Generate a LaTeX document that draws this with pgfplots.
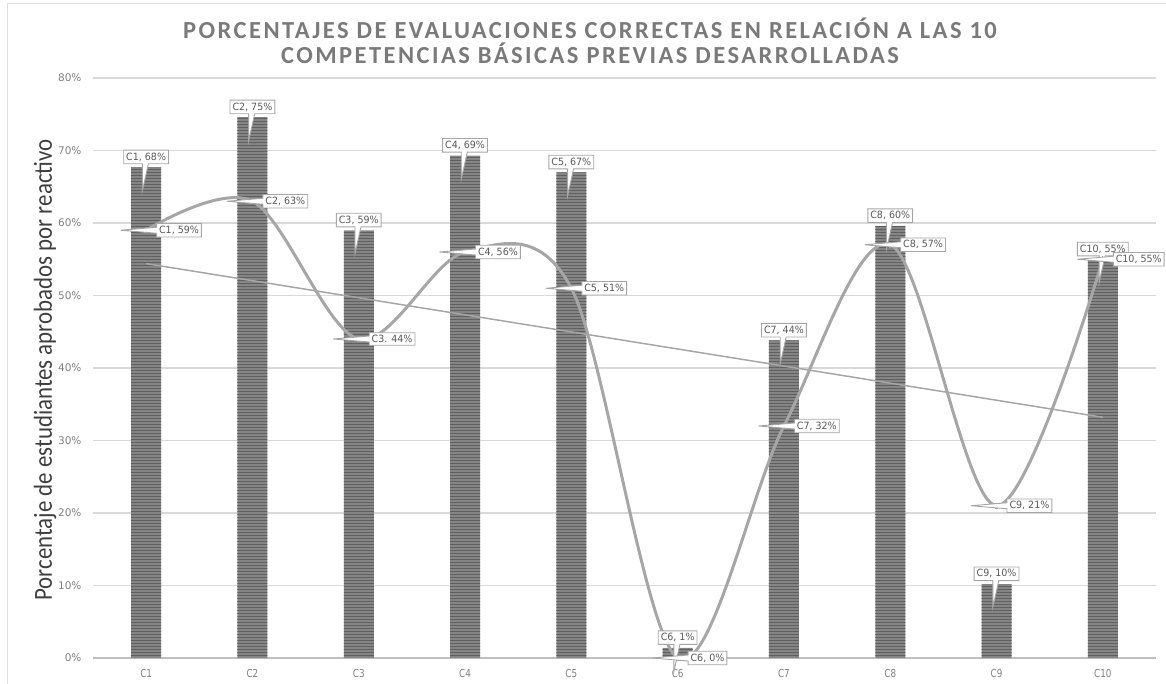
\documentclass[border=0pt]{standalone}
\usepackage{pgfplots}
\pgfplotsset{compat=1.18}
\usetikzlibrary{patterns,shapes.callouts}
\usepackage{fontspec}
\setmainfont{DejaVu Sans}
\newfontfamily\titlefont[LetterSpace=10]{Carlito}
\newfontfamily\ylabfont[FakeStretch=0.88]{Carlito}
\newfontfamily\xtickfont[FakeStretch=0.8]{DejaVu Sans}
\newfontfamily\lblfont[FakeStretch=0.95]{DejaVu Sans}
\definecolor{titlegray}{HTML}{7A7A7A}
\definecolor{ylabgray}{HTML}{3F3F3F}
\definecolor{tickgray}{HTML}{808080}
\definecolor{gridgray}{HTML}{D9D9D9}
\definecolor{axisgray}{HTML}{BFBFBF}
\definecolor{bargray}{HTML}{858585}
\definecolor{stripegray}{HTML}{606060}
\definecolor{linegray}{HTML}{A6A6A6}
\definecolor{boxgray}{HTML}{A6A6A6}
\definecolor{lbltext}{HTML}{595959}
\begin{document}
\begin{tikzpicture}[x=1pt,y=1pt]
\path[use as bounding box] (0,0) rectangle (1166,683);
\draw[gray!25, line width=1pt] (7,-5) -- (7,679) -- (1175,679);
\node[text=titlegray, font=\titlefont\bfseries\fontsize{24.5}{28}\selectfont] at (590,655) {PORCENTAJES DE EVALUACIONES CORRECTAS EN RELACIÓN A LAS 10};
\node[text=titlegray, font=\titlefont\bfseries\fontsize{24.5}{28}\selectfont] at (590,630) {COMPETENCIAS BÁSICAS PREVIAS DESARROLLADAS};
\node[rotate=90, text=ylabgray, font=\ylabfont\fontsize{26}{29}\selectfont] at (45,313) {Porcentaje de estudiantes aprobados por reactivo};
\begin{axis}[
  at={(93pt,25pt)}, anchor=south west,
  scale only axis, width=1063pt, height=580pt,
  xmin=0.5, xmax=10.5, ymin=0, ymax=80,
  clip=false,
  axis x line=bottom, axis y line=left,
  x axis line style={draw=axisgray, line width=1.3pt, -},
  y axis line style={draw=none},
  major tick length=0pt,
  xtick={1,...,10},
  xticklabels={C1,C2,C3,C4,C5,C6,C7,C8,C9,C10},
  ytick={0,10,...,80},
  yticklabel={\pgfmathprintnumber{\tick}\%},
  /pgf/number format/assume math mode=true,
  yticklabel style={font=\fontsize{10.5}{12}\selectfont, text=tickgray, xshift=-8pt},
  xticklabel style={font=\xtickfont\fontsize{11}{12}\selectfont, text=tickgray, yshift=-8pt},
  ymajorgrids, grid style={draw=gridgray, line width=1.3pt},
]
\addplot[ybar, bar width=30pt, draw=none, fill=bargray,
  postaction={pattern=horizontal lines, pattern color=stripegray},
  point meta=explicit symbolic, nodes near coords,
  every node near coord/.append style={font=\lblfont\fontsize{10}{12}\selectfont, text=lbltext,
    fill=white, draw=boxgray, line width=0.9pt, rectangle callout, inner sep=2.5pt,
    callout relative pointer={(-3pt,-27pt)}, callout pointer width=6pt,
    anchor=south, yshift=3pt}]
coordinates {(1,67.7) [C1, 68\%] (2,74.6) [C2, 75\%] (3,59) [C3, 59\%] (4,69.3) [C4, 69\%] (5,67) [C5, 67\%] (6,1.4) [C6, 1\%] (7,43.8) [C7, 44\%] (8,59.6) [C8, 60\%] (9,10.2) [C9, 10\%] (10,55) [C10, 55\%]};
\addplot[linegray, line width=1.5pt] coordinates {(1,54.4) (10,33.2)};
\addplot[linegray, line width=3pt, smooth, tension=0.55, mark=*, mark size=2.5pt,
  mark options={fill=linegray, draw=linegray, line width=0pt},
  point meta=explicit symbolic, nodes near coords,
  every node near coord/.append style={font=\lblfont\fontsize{10}{12}\selectfont, text=lbltext,
    fill=white, draw=boxgray, line width=0.9pt, rectangle callout, inner sep=2.5pt,
    callout relative pointer={(-36pt,0pt)}, callout pointer width=6pt,
    anchor=west, xshift=10pt, yshift=0pt}]
coordinates {(1,59) [C1, 59\%] (2,63) [C2, 63\%] (3,44) [C3. 44\%] (4,56) [C4, 56\%] (5,51) [C5, 51\%] (6,0) [C6, 0\%] (7,32) [C7, 32\%] (8,57) [C8, 57\%] (9,21) [C9, 21\%] (10,55) [C10, 55\%]};
\end{axis}
\end{tikzpicture}
\end{document}
